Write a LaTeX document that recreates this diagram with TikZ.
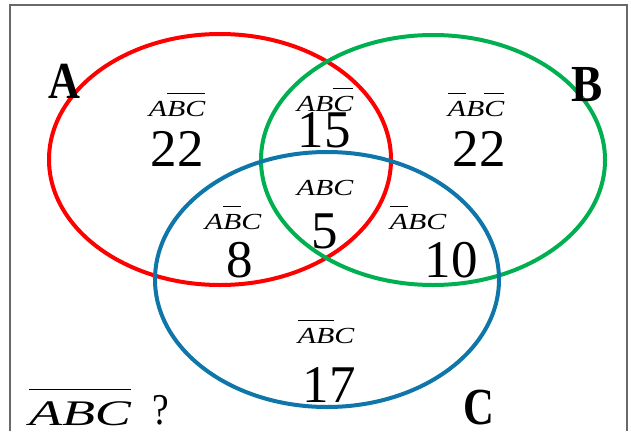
\documentclass[tikz,border=0pt]{standalone}
\usepackage{fontspec}
\setmainfont{Liberation Serif}

\definecolor{setred}{RGB}{255,0,0}
\definecolor{setgreen}{RGB}{0,176,80}
\definecolor{setblue}{RGB}{14,118,168}
\definecolor{framegray}{RGB}{105,105,105}

% complement bar drawn over a group of letters
\newcommand\ovl[1]{\vbox{\hrule height 0.05em\kern0.3em\hbox{#1}}}

\tikzset{
  setline/.style={line width=4pt},
  region/.style={anchor=base, inner sep=0pt,
    font=\itshape\fontsize{23}{27}\selectfont},
  count/.style={anchor=base, inner sep=0pt,
    font=\fontsize{53}{58}\selectfont},
  setname/.style={anchor=base, inner sep=0pt,
    font=\bfseries\fontsize{52}{56}\selectfont},
}

\newcommand\wide[1]{\scalebox{1.3}[1]{#1}}

\begin{document}
\begin{tikzpicture}[x=1pt, y=-1pt]
  \useasboundingbox (0,0) rectangle (631,431);
  \fill[white] (0,0) rectangle (631,431);

  % frame, open at the bottom
  \draw[framegray, line width=1.6pt] (10,431) -- (10,5) -- (627,5) -- (627,431);

  % the three sets
  \draw[setline, setred]   (220,159.5) ellipse [x radius=171, y radius=125.5];
  \draw[setline, setgreen] (433,160)   ellipse [x radius=172, y radius=125];
  \draw[setline, setblue]  (327,279.5) ellipse [x radius=172, y radius=127.5];

  % set names
  \node[setname] (nameA) at (64,98)  {\scalebox{0.85}[1]{A}};
  \node[setname] (nameB) at (587,101) {\scalebox{0.9}[1]{B}};
  \node[setname] (nameC) at (479,424) {\scalebox{0.82}[1]{C}};

  % region labels
  \node[region] (rA)   at (177,116) {\wide{A\ovl{BC}}};
  \node[region] (rAB)  at (325,111) {\wide{AB\ovl{C}}};
  \node[region] (rB)   at (476,116) {\wide{\ovl{A}B\ovl{C}}};
  \node[region] (rABC) at (325,195) {\wide{ABC}};
  \node[region] (rAC)  at (233,229) {\wide{A\ovl{B}C}};
  \node[region] (rBC)  at (418,229) {\wide{\ovl{A}BC}};
  \node[region] (rC)   at (326,343) {\wide{\ovl{AB}C}};

  % region counts
  \node[count] (cA)   at (177,166) {22};
  \node[count] (cAB)  at (324,147) {15};
  \node[count] (cB)   at (479,166) {22};
  \node[count] (cABC) at (325,248) {5};
  \node[count] (cAC)  at (240,277) {8};
  \node[count] (cBC)  at (451,277) {10};
  \node[count] (cC)   at (329,402) {17};

  % outside all three sets
  \node[anchor=base, inner sep=0pt, font=\itshape\fontsize{36}{40}\selectfont]
    (rNone) at (80,425) {\scalebox{1.5}[1]{\ovl{ABC}}};
  \node[anchor=base, inner sep=0pt, font=\fontsize{44}{48}\selectfont]
    (qmark) at (161,424) {\scalebox{0.85}[1]{?}};
\end{tikzpicture}
\end{document}
